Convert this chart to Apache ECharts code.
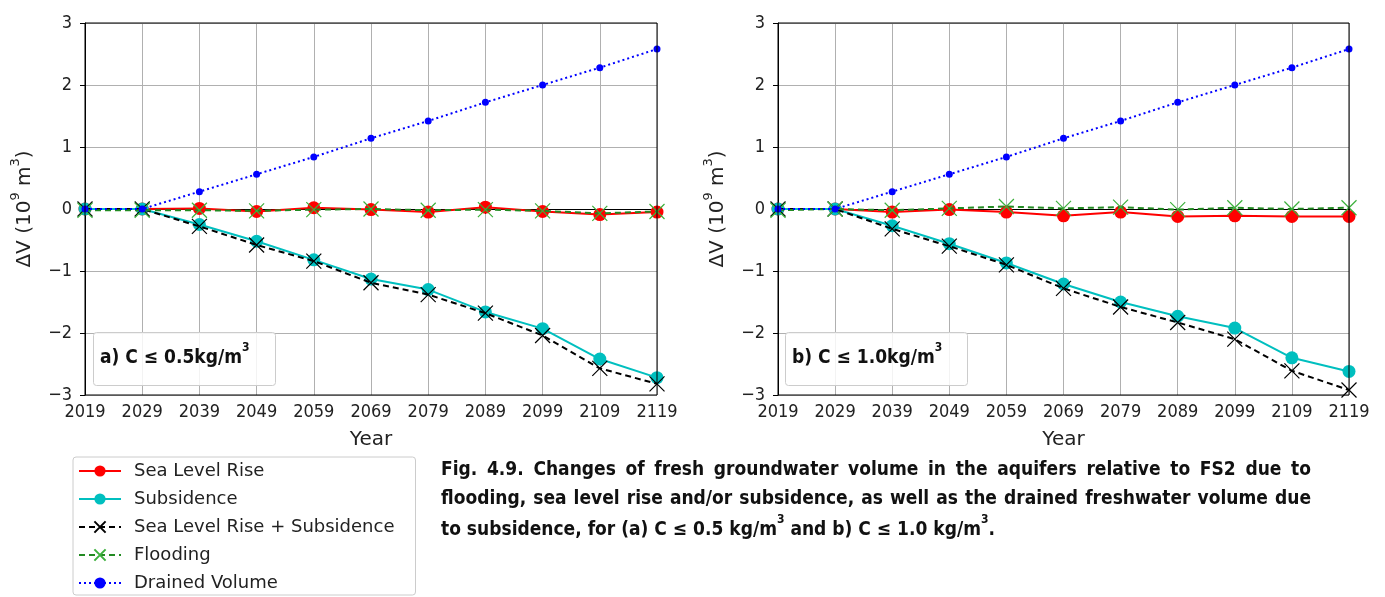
<!DOCTYPE html>
<html>
<head>
<meta charset="utf-8">
<script src="https://cdn.jsdelivr.net/npm/echarts@6/dist/echarts.min.js"></script>
<style>
html,body{margin:0;padding:0;background:#fff;}
#chart{width:1385px;height:597px;}
</style>
</head>
<body>
<div id="chart"></div>
<script>
// ---- data ----
const years = ['2019','2029','2039','2049','2059','2069','2079','2089','2099','2109','2119'];
const yTickValues = [-3, -2, -1, 0, 1, 2, 3];

// panel a) C <= 0.5 kg/m3
const seaLevelA   = [0, 0, 0.01, -0.04, 0.02, -0.01, -0.05, 0.03, -0.04, -0.09, -0.05];
const subsidenceA = [0, 0, -0.25, -0.52, -0.82, -1.13, -1.30, -1.66, -1.93, -2.42, -2.72];
const slrSubA     = [0, 0, -0.28, -0.58, -0.84, -1.19, -1.38, -1.68, -2.04, -2.57, -2.82];
const floodingA   = [-0.02, -0.02, -0.02, -0.03, -0.01, 0, -0.02, -0.01, -0.03, -0.07, -0.04];
const drainedA    = [0, 0, 0.28, 0.56, 0.84, 1.14, 1.42, 1.72, 2.00, 2.28, 2.58];

// panel b) C <= 1.0 kg/m3
const seaLevelB   = [0, 0, -0.05, -0.01, -0.05, -0.11, -0.05, -0.12, -0.11, -0.12, -0.12];
const subsidenceB = [0, 0, -0.27, -0.56, -0.87, -1.21, -1.50, -1.73, -1.92, -2.40, -2.62];
const slrSubB     = [0, 0, -0.32, -0.60, -0.90, -1.28, -1.58, -1.83, -2.10, -2.61, -2.92];
const floodingB   = [-0.02, 0, -0.02, 0.01, 0.04, 0.01, 0.03, -0.01, 0.02, 0, 0.02];
const drainedB    = [0, 0, 0.28, 0.56, 0.84, 1.14, 1.42, 1.72, 2.00, 2.28, 2.58];

const seriesNames = ['Sea Level Rise', 'Subsidence', 'Sea Level Rise + Subsidence', 'Flooding', 'Drained Volume'];
const panelLabels = [['a) C \u2264 0.5kg/m', '3'], ['b) C \u2264 1.0kg/m', '3']];
const yAxisTitle = ['\u0394V (10', '9', ' m', '3', ')'];
const captionLines = [
  'Fig. 4.9. Changes of fresh groundwater volume in the aquifers relative to FS2 due to',
  'flooding, sea level rise and/or subsidence, as well as the drained freshwater volume due'
];
const captionLast = ['to subsidence, for (a) C \u2264 0.5 kg/m', '3', ' and b) C \u2264 1.0 kg/m', '3', '.'];

// ---- styles ----
const XPATH = 'path://M0,0L10,10M10,0L0,10';
const styles = [
  {color:'#ff0000', type:'solid', width:2, symbol:'circle', size:13, stroke:0},
  {color:'#00bfbf', type:'solid', width:2, symbol:'circle', size:13, stroke:0},
  {color:'#000000', type:[6,4], width:2, symbol:XPATH, size:15, stroke:1.2, mColor:'#000000'},
  {color:'#228b22', type:[6,4], width:2, symbol:XPATH, size:15, stroke:1.2, mColor:'#3cb03c'},
  {color:'#0000ff', type:[2,3], width:2, symbol:'circle', size:7, stroke:0}
];

const FONT = 'DejaVu Sans';
const CFONT = 'DejaVu Sans Condensed';
const chart = echarts.init(document.getElementById('chart'), null, {renderer:'canvas'});

const gridDefs = [
  {left:85, width:572, top:23, height:372},
  {left:778, width:571, top:23, height:372}
];

function minusFmt(v){ return v < 0 ? '\u2212' + Math.abs(v) : String(v); }

const grids = gridDefs.map(g => Object.assign({show:true, z:10, borderColor:'#000', borderWidth:1, backgroundColor:'transparent'}, g));
const xAxes = gridDefs.map((g,i) => ({
  type:'category', gridIndex:i, data:years, boundaryGap:false,
  name:'Year', nameLocation:'middle', nameGap:35,
  nameTextStyle:{fontFamily:FONT, fontSize:20, color:'#222'},
  axisLine:{show:true, lineStyle:{color:'#000', width:1}},
  axisTick:{show:true, inside:false, length:5, alignWithLabel:true, interval:0, lineStyle:{color:'#000'}},
  axisLabel:{interval:0, fontFamily:CFONT, fontSize:18, color:'#222', margin:8},
  splitLine:{show:true, interval:0, lineStyle:{color:'#b0b0b0', width:1}}
}));
const yAxes = gridDefs.map((g,i) => ({
  type:'value', gridIndex:i, min:-3, max:3, interval:1,
  axisLine:{show:true, lineStyle:{color:'#000', width:1}},
  axisTick:{show:true, inside:false, length:5, lineStyle:{color:'#000'}},
  axisLabel:{fontFamily:CFONT, fontSize:18, color:'#222', margin:13, formatter:minusFmt},
  splitLine:{show:true, lineStyle:{color:'#b0b0b0', width:1}}
}));

const panelData = [
  [seaLevelA, subsidenceA, slrSubA, floodingA, drainedA],
  [seaLevelB, subsidenceB, slrSubB, floodingB, drainedB]
];
const series = [];
panelData.forEach((arrs, p) => {
  arrs.forEach((data, k) => {
    const s = styles[k];
    series.push({
      name: seriesNames[k], type:'line', xAxisIndex:p, yAxisIndex:p,
      data: data, symbol: s.symbol, symbolSize: s.size, showSymbol:true,
      animation:false, z: 2 + k,
      lineStyle:{color:s.color, type:s.type, width:s.width},
      itemStyle: s.stroke ? {color: s.mColor, borderColor: s.mColor, borderWidth: s.stroke}
                          : {color: s.color, borderWidth:0},
      emphasis:{disabled:true}
    });
  });
});

// ---- graphics: axis titles, panel labels and caption ----
const graphics = [];
const yTitleX = [22, 715];
yTitleX.forEach(x => {
  graphics.push({type:'text', x:x, y:209, rotation:Math.PI/2, z:40,
    style:{text:'{m|' + yAxisTitle[0] + '}{s|' + yAxisTitle[1] + '}{m|' + yAxisTitle[2] + '}{s|' + yAxisTitle[3] + '}{m|' + yAxisTitle[4] + '}',
      align:'center', verticalAlign:'middle',
      rich:{
        m:{fontFamily:FONT, fontSize:20, fill:'#222', verticalAlign:'bottom', lineHeight:26},
        s:{fontFamily:FONT, fontSize:13, fill:'#222', verticalAlign:'top', lineHeight:26}
      }}});
});

const boxes = [{x:93, y:332}, {x:785, y:332}];
boxes.forEach((b, i) => {
  graphics.push({type:'rect', left:b.x, top:b.y, z:50,
    shape:{width:182, height:53, r:3},
    style:{fill:'rgba(255,255,255,0.85)', stroke:'#cccccc', lineWidth:1}});
  graphics.push({type:'text', x:b.x + 7, y:b.y + 10, z:51,
    style:{text:'{m|' + panelLabels[i][0] + '}{s|' + panelLabels[i][1] + '}',
      rich:{
        m:{fontFamily:CFONT, fontWeight:'bold', fontSize:19, fill:'#111', verticalAlign:'bottom', lineHeight:26},
        s:{fontFamily:CFONT, fontWeight:'bold', fontSize:12, fill:'#111', verticalAlign:'top', lineHeight:26}
      }}});
});

// caption (justified lines measured in-browser)
const CAPFONT = '"Liberation Sans Narrow", "DejaVu Sans Condensed", sans-serif';
const capSize = 19;
const ctx = document.createElement('canvas').getContext('2d');
ctx.font = 'bold ' + capSize + 'px ' + CAPFONT;
const capLeft = 441, capRight = 1311;
const capTops = [461, 490];
captionLines.forEach((line, li) => {
  const words = line.split(' ');
  const widths = words.map(w => ctx.measureText(w).width);
  const total = widths.reduce((a,b)=>a+b, 0);
  const gap = (capRight - capLeft - total) / (words.length - 1);
  let x = capLeft;
  words.forEach((w, wi) => {
    graphics.push({type:'text', x:x, y:capTops[li], z:60,
      style:{text:w, font:'bold ' + capSize + 'px ' + CAPFONT, fill:'#111'}});
    x += widths[wi] + gap;
  });
});
graphics.push({type:'text', x:capLeft, y:514, z:60,
  style:{text:'{m|' + captionLast[0] + '}{s|' + captionLast[1] + '}{m|' + captionLast[2] + '}{s|' + captionLast[3] + '}{m|' + captionLast[4] + '}',
    rich:{
      m:{fontFamily:CAPFONT, fontWeight:'bold', fontSize:capSize, fill:'#111', verticalAlign:'bottom', lineHeight:26},
      s:{fontFamily:CAPFONT, fontWeight:'bold', fontSize:12, fill:'#111', verticalAlign:'top', lineHeight:26}
    }}});

chart.setOption({
  animation:false,
  backgroundColor:'#ffffff',
  grid: grids,
  xAxis: xAxes,
  yAxis: yAxes,
  legend: {
    show:true, orient:'vertical', left:73, top:457,
    data: seriesNames,
    itemWidth:42, itemHeight:14, itemGap:10,
    padding:[5, 21, 3, 5],
    borderColor:'#cccccc', borderWidth:1, borderRadius:3,
    backgroundColor:'#ffffff',
    textStyle:{fontFamily:FONT, fontSize:18, color:'#222', lineHeight:18, padding:[0,0,0,8]},
    selectedMode:false
  },
  series: series,
  graphic: graphics
});
</script>
</body>
</html>
